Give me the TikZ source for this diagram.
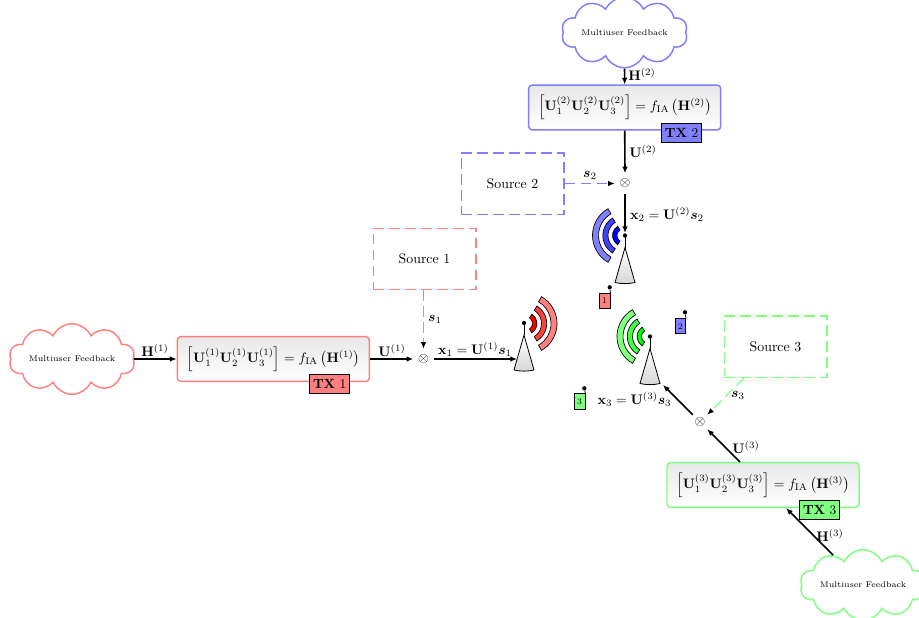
\RequirePackage{fix-cm}
\documentclass[tikz,border=0pt]{standalone}
\usepackage{amsmath,amssymb,bm}
\usetikzlibrary{arrows.meta,shapes.symbols,shadings,calc}
\definecolor{cR}{HTML}{FF8080}\definecolor{cB}{HTML}{8080FF}\definecolor{cG}{HTML}{80FF80}
\definecolor{mR}{HTML}{FF4040}\definecolor{mB}{HTML}{4040FF}\definecolor{mG}{HTML}{40FF40}
\definecolor{iR}{HTML}{FF0000}\definecolor{iB}{HTML}{0000FF}\definecolor{iG}{HTML}{00FF00}
\tikzset{
 x=.75pt,y=-.75pt,
 fback/.style={cloud,cloud puffs=10,cloud puff arc=130,aspect=2.5,draw,line width=1.1pt,fill=white,minimum width=86pt,minimum height=18pt,inner sep=0pt,font=\fontsize{6.2}{7}\selectfont},
 iabox/.style={draw,line width=1.1pt,rounded corners=2.5pt,top color=black!9,bottom color=white,minimum width=144pt,minimum height=33.5pt,inner sep=0pt,font=\fontsize{10.3}{12}\selectfont},
 txbox/.style={draw=black,line width=.6pt,minimum width=30pt,minimum height=14pt,inner sep=0pt,font=\fontsize{10}{11}\selectfont},
 srcbox/.style={draw,line width=1pt,dash pattern=on 8pt off 4pt,fill=white,minimum width=77pt,minimum height=46pt,inner sep=0pt,font=\fontsize{10.4}{12}\selectfont},
 mixer/.style={circle,inner sep=0pt,minimum size=15pt,font=\fontsize{10.4}{12}\selectfont},
 devbox/.style={draw=black,line width=.6pt,minimum width=8pt,minimum height=11.5pt,inner sep=0pt,font=\fontsize{6.5}{7}\selectfont},
 dotnode/.style={circle,fill=black,inner sep=0pt,minimum size=3.2pt},
 lbl/.style={inner sep=0pt,font=\fontsize{10.4}{12}\selectfont},
 conn/.style={line width=1.2pt,-{Latex[length=5pt,width=4.2pt]}},
 dconn/.style={line width=1pt,dash pattern=on 8pt off 4pt,-{Latex[black,length=5pt,width=4.2pt]}},
}
\newcommand{\wavefan}[5]{% x y mid-angle colours
 \begin{scope}[shift={(#1,#2)}]
  \foreach \ra/\rb/\cc in {6.5/11/#5,15.5/20.7/#4}{
   \draw[line width=.5pt,fill=\cc] (#3-58:\ra) arc[start angle=#3-58,end angle=#3+58,radius=\ra] -- (#3+58:\rb) arc[start angle=#3+58,end angle=#3-58,radius=\rb] -- cycle;
  }
 \end{scope}}
\newcommand{\outerwave}[4]{%
 \begin{scope}[shift={(#1,#2)}]
   \draw[line width=.5pt,fill=#4] (#3-60:25) arc[start angle=#3-60,end angle=#3+60,radius=25] -- (#3+60:31) arc[start angle=#3+60,end angle=#3-60,radius=31] -- cycle;
 \end{scope}}
\newcommand{\towerbody}[2]{% apex x, dot y
 \draw[line width=.6pt,top color=white,bottom color=black!16] (#1,#2+12) -- (#1-10,#2+47) .. controls (#1-4,#2+48.5) and (#1+4,#2+48.5) .. (#1+10,#2+47) -- cycle;
 \draw[line width=.6pt] (#1,#2) -- (#1,#2+12);
}
\begin{document}
\begin{tikzpicture}
\useasboundingbox (0,0) rectangle (919,617);
% chain 1
\node[fback,draw=cR] (cloudA) at (72,359) {Multiuser Feedback};
\node[iabox,draw=cR] (boxA) at (273.3,359) {$\left[\mathbf{U}_1^{(1)}\mathbf{U}_2^{(1)}\mathbf{U}_3^{(1)}\right]=f_{\mathrm{IA}}\left(\mathbf{H}^{(1)}\right)$};
\node[txbox,fill=cR] (txA) at (329.7,384) {\textbf{TX} 1};
\node[srcbox,draw=cR] (srcA) at (424.5,259) {Source 1};
\node[mixer] (mixA) at (423.5,359) {$\otimes$};
\coordinate (towA) at (517,359);
% chain 2
\node[fback,draw=cB] (cloudB) at (624.5,32.5) {Multiuser Feedback};
\node[iabox,draw=cB] (boxB) at (624.7,107.5) {$\left[\mathbf{U}_1^{(2)}\mathbf{U}_2^{(2)}\mathbf{U}_3^{(2)}\right]=f_{\mathrm{IA}}\left(\mathbf{H}^{(2)}\right)$};
\node[txbox,fill=cB] (txB) at (681.5,133) {\textbf{TX} 2};
\node[srcbox,draw=cB] (srcB) at (512.5,183.5) {Source 2};
\node[mixer] (mixB) at (625,183.5) {$\otimes$};
\coordinate (towB) at (625,233);
% chain 3
\node[fback,draw=cG] (cloudC) at (863,585) {Multiuser Feedback};
\node[iabox,draw=cG] (boxC) at (763,485) {$\left[\mathbf{U}_1^{(3)}\mathbf{U}_2^{(3)}\mathbf{U}_3^{(3)}\right]=f_{\mathrm{IA}}\left(\mathbf{H}^{(3)}\right)$};
\node[txbox,fill=cG] (txC) at (819.7,509.7) {\textbf{TX} 3};
\node[srcbox,draw=cG] (srcC) at (775.5,346.5) {Source 3};
\node[mixer] (mixC) at (700,422) {$\otimes$};
\coordinate (towC) at (663,385);
% connectors
\draw[conn] (cloudA.east) -- (boxA.west);
\draw[conn] (boxA.east) -- (mixA.west);
\draw[conn] (mixA.east) -- (towA);
\draw[dconn,draw=cR] (srcA.south -| mixA) -- (mixA.north);
\draw[conn] (cloudB.south) -- (boxB.north);
\draw[conn] (boxB.south) -- (mixB.north);
\draw[conn] (mixB.south) -- (towB);
\draw[dconn,draw=cB] (srcB.east) -- (mixB.west);
\draw[conn] (cloudC) -- (boxC);
\draw[conn] (boxC) -- (mixC);
\draw[conn] (mixC) -- (towC);
\draw[dconn,draw=cG] (srcC) -- (mixC);
% towers
\towerbody{524}{323}
\node[dotnode] (topA) at (524,323) {};
\outerwave{526}{323.5}{0}{cR}\wavefan{526}{323.5}{0}{mR}{iR}
\towerbody{625}{235.5}
\node[dotnode] (topB) at (625,235.5) {};
\outerwave{623.5}{235.5}{180}{cB}\wavefan{623.5}{235.5}{180}{mB}{iB}
\towerbody{650}{336.5}
\node[dotnode] (topC) at (650,336.5) {};
\outerwave{648}{336.5}{180}{cG}\wavefan{648}{336.5}{180}{mG}{iG}
% devices
\node[devbox,fill=cR] (devA) at (604.7,301) {1};
\node[dotnode] (dotA) at (609.7,287.3) {};
\draw[line width=.6pt] (devA.north east) -- (dotA);
\node[devbox,fill=cB] (devB) at (680.3,326.2) {2};
\node[dotnode] (dotB) at (685,312.3) {};
\draw[line width=.6pt] (devB.north east) -- (dotB);
\node[devbox,fill=cG] (devC) at (579.7,401.5) {3};
\node[dotnode] (dotC) at (584.3,388.3) {};
\draw[line width=.6pt] (devC.north east) -- (dotC);
% labels
\node[lbl] (lHa) at (155,350) {$\mathbf{H}^{(1)}$};
\node[lbl] (lUa) at (392,350) {$\mathbf{U}^{(1)}$};
\node[lbl] (lxa) at (475,349) {$\mathbf{x}_1=\mathbf{U}^{(1)}\bm{s}_1$};
\node[lbl] (lsa) at (435,319) {$\bm{s}_1$};
\node[lbl] (lHb) at (642,74) {$\mathbf{H}^{(2)}$};
\node[lbl] (lUb) at (643,151) {$\mathbf{U}^{(2)}$};
\node[lbl] (lsb) at (590,175) {$\bm{s}_2$};
\node[lbl] (lxb) at (667,214) {$\mathbf{x}_2=\mathbf{U}^{(2)}\bm{s}_2$};
\node[lbl] (lxc) at (634.5,399) {$\mathbf{x}_3=\mathbf{U}^{(3)}\bm{s}_3$};
\node[lbl] (lsc) at (738,395) {$\bm{s}_3$};
\node[lbl] (lUc) at (746,447) {$\mathbf{U}^{(3)}$};
\node[lbl] (lHc) at (830,535) {$\mathbf{H}^{(3)}$};
\end{tikzpicture}
\end{document}
